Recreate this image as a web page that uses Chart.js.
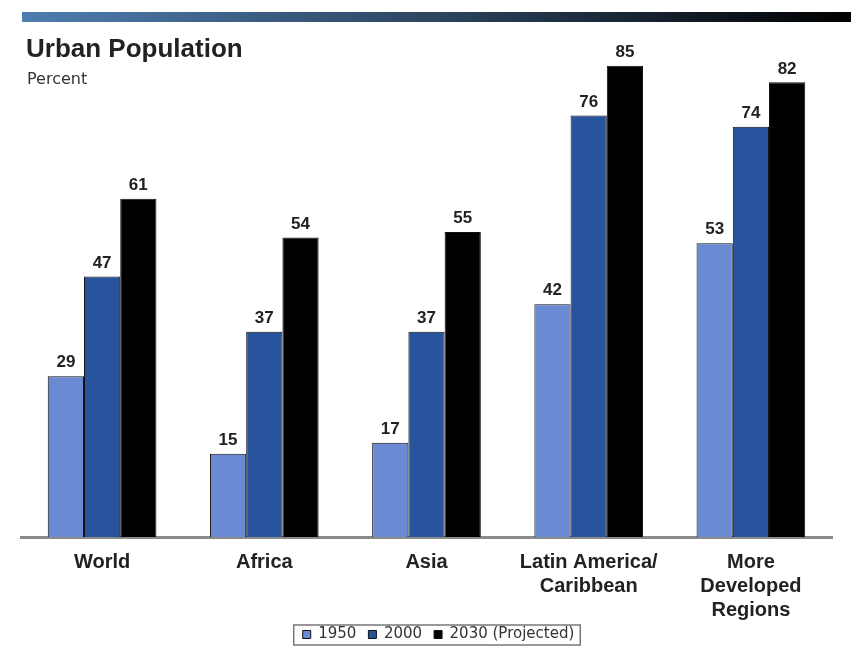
<!DOCTYPE html>
<html>
<head>
<meta charset="utf-8">
<script src="https://cdn.jsdelivr.net/npm/chart.js@4/dist/chart.umd.min.js"></script>
<style>
  body { margin: 0; background: #fff; }
  #wrap { width: 851px; height: 650px; }
</style>
</head>
<body>
<div id="wrap"><canvas id="myChart" width="851" height="650"></canvas></div>
<script>
"use strict";

const regions = [
  "World",
  "Africa",
  "Asia",
  ["Latin America/", "Caribbean"],
  ["More", "Developed", "Regions"],
];
const years = ["1950", "2000", "2030 (Projected)"];
const urban1950 = [29, 15, 17, 42, 53];
const urban2000 = [47, 37, 37, 76, 74];
const urban2030 = [61, 54, 55, 85, 82];
const barColors = ["#6a8ad4", "#27549c", "#000000"];

const sans = "'Liberation Sans', Arial, sans-serif";

// header band + title, value labels, legend frame
const decor = {
  id: "decor",
  afterLayout(chart) {
    // legend sits a bit higher and right of where chart.js puts it
    const lg = chart.legend;
    lg.top -= 8;
    lg.bottom -= 8;
    lg.left += 12;
    lg.right += 12;
  },
  beforeDraw(chart) {
    const ctx = chart.ctx;
    ctx.save();
    const g = ctx.createLinearGradient(22, 0, 851, 0);
    g.addColorStop(0, "#4f7db0");
    g.addColorStop(0.5, "#2c4560");
    g.addColorStop(1, "#000000");
    ctx.fillStyle = g;
    ctx.fillRect(22, 12, 829, 10);
    ctx.fillStyle = "#222";
    ctx.textBaseline = "alphabetic";
    ctx.font = "bold 26px " + sans;
    ctx.fillText("Urban Population", 26, 57);
    ctx.fillStyle = "#333";
    ctx.font = "16px 'DejaVu Sans', sans-serif";
    ctx.fillText("Percent", 27, 84);
    ctx.restore();
  },
  afterDatasetsDraw(chart) {
    const ctx = chart.ctx;
    ctx.save();
    ctx.fillStyle = "#222";
    ctx.font = "bold 17px " + sans;
    ctx.textAlign = "center";
    ctx.textBaseline = "bottom";
    chart.data.datasets.forEach((ds, i) => {
      chart.getDatasetMeta(i).data.forEach((bar, j) => {
        ctx.fillText(ds.data[j], bar.x, bar.y - 5);
      });
    });
    const boxes = chart.legend.legendHitBoxes;
    const left = Math.min(...boxes.map((b) => b.left)) - 9;
    const right = Math.max(...boxes.map((b) => b.left + b.width)) + 6;
    const top = boxes[0].top - 2;
    ctx.strokeStyle = "#777";
    ctx.lineWidth = 1.5;
    ctx.strokeRect(left, top, right - left, 20);
    ctx.restore();
  },
};

new Chart("myChart", {
  type: "bar",
  data: {
    labels: regions,
    datasets: [
      { label: years[0], data: urban1950, backgroundColor: barColors[0] },
      { label: years[1], data: urban2000, backgroundColor: barColors[1] },
      { label: years[2], data: urban2030, backgroundColor: barColors[2] },
    ],
  },
  options: {
    responsive: false,
    animation: false,
    layout: { padding: { top: 38, left: 21, right: 19, bottom: 0 } },
    datasets: {
      bar: {
        categoryPercentage: 0.67,
        barPercentage: 1,
        borderColor: "#111",
        borderWidth: 1,
      },
    },
    scales: {
      x: {
        grid: { display: false, drawTicks: false },
        border: { color: "#8a8a8a", width: 3 },
        ticks: {
          color: "#222",
          padding: 14,
          font: { family: sans, size: 20, weight: "bold", lineHeight: 1.18 },
        },
        afterFit(scale) {
          scale.height = 86;
        },
      },
      y: { display: false, min: 0, max: 90 },
    },
    plugins: {
      legend: {
        position: "bottom",
        maxHeight: 27,
        labels: {
          boxWidth: 8,
          boxHeight: 8,
          padding: 12,
          color: "#333",
          font: { family: "'DejaVu Sans', sans-serif", size: 15 },
        },
      },
      tooltip: { enabled: false },
    },
  },
  plugins: [decor],
});
</script>
</body>
</html>
